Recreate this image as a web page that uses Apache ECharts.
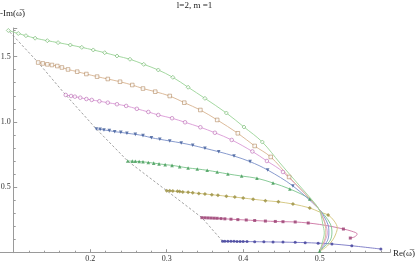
<!DOCTYPE html>
<html><head><meta charset="utf-8">
<script src="https://cdn.jsdelivr.net/npm/echarts@6/dist/echarts.min.js"></script>
<style>html,body{margin:0;padding:0;background:#fff}#c{width:415px;height:263px}</style>
</head><body><div id="c"></div>
<script>
// [Re, -Im, hasMarker]
const n0 = [[0.373,0.088,1],[0.376,0.088,1],[0.380,0.087,1],[0.384,0.087,1],[0.388,0.087,1],[0.392,0.086,1],[0.396,0.086,1],[0.400,0.086,1],[0.405,0.085,1],[0.415,0.084,1],[0.427,0.083,1],[0.439,0.082,1],[0.452,0.081,1],[0.468,0.079,1],[0.481,0.077,1],[0.498,0.073,1],[0.516,0.067,1],[0.542,0.053,1],[0.580,0.028,1]];
const n1 = [[0.346,0.268,1],[0.350,0.267,1],[0.354,0.266,1],[0.358,0.265,1],[0.362,0.264,1],[0.366,0.263,1],[0.371,0.261,1],[0.376,0.259,1],[0.384,0.256,1],[0.393,0.253,1],[0.404,0.250,1],[0.415,0.246,1],[0.429,0.242,1],[0.442,0.239,1],[0.452,0.237,1],[0.468,0.235,1],[0.485,0.227,1],[0.500,0.216,0],[0.516,0.200,0],[0.531,0.181,1],[0.542,0.164,0],[0.549,0.143,0],[0.546,0.122,0],[0.540,0.112,1]];
const n2 = [[0.300,0.474,1],[0.304,0.473,1],[0.308,0.471,1],[0.314,0.469,1],[0.317,0.467,1],[0.321,0.465,1],[0.328,0.462,1],[0.334,0.458,1],[0.342,0.453,1],[0.350,0.449,1],[0.359,0.443,1],[0.367,0.439,1],[0.378,0.432,1],[0.389,0.425,1],[0.400,0.418,1],[0.413,0.409,1],[0.429,0.398,1],[0.446,0.389,1],[0.465,0.372,1],[0.487,0.342,1],[0.500,0.311,0],[0.511,0.288,1],[0.519,0.242,0],[0.523,0.189,0],[0.521,0.143,0],[0.517,0.097,0],[0.510,0.051,0],[0.502,0.017,0]];
const n3 = [[0.249,0.701,1],[0.255,0.700,1],[0.259,0.699,1],[0.264,0.697,1],[0.269,0.695,1],[0.276,0.690,1],[0.283,0.685,1],[0.290,0.679,1],[0.298,0.673,1],[0.307,0.668,1],[0.317,0.658,1],[0.328,0.648,1],[0.340,0.640,1],[0.353,0.630,1],[0.366,0.617,1],[0.380,0.602,1],[0.398,0.586,1],[0.418,0.569,1],[0.439,0.533,1],[0.461,0.487,1],[0.487,0.411,1],[0.499,0.334,0],[0.507,0.281,0],[0.514,0.219,0],[0.516,0.158,0],[0.514,0.097,0],[0.507,0.051,0],[0.500,0.013,1]];
const n4 = [[0.208,0.946,1],[0.213,0.943,1],[0.218,0.938,1],[0.225,0.933,1],[0.232,0.925,1],[0.240,0.920,1],[0.248,0.913,1],[0.259,0.905,1],[0.269,0.895,1],[0.280,0.879,1],[0.291,0.867,1],[0.304,0.854,1],[0.319,0.839,1],[0.334,0.821,1],[0.350,0.798,1],[0.368,0.772,1],[0.388,0.739,1],[0.409,0.696,1],[0.432,0.632,1],[0.465,0.510,1],[0.499,0.334,0],[0.506,0.273,0],[0.511,0.212,0],[0.512,0.151,0],[0.510,0.090,0],[0.504,0.044,0],[0.500,0.013,0]];
const n5 = [[0.168,1.206,1],[0.175,1.198,1],[0.180,1.193,1],[0.187,1.185,1],[0.195,1.175,1],[0.202,1.168,1],[0.212,1.158,1],[0.223,1.147,1],[0.235,1.135,1],[0.247,1.122,1],[0.261,1.100,1],[0.276,1.076,1],[0.289,1.053,1],[0.307,1.028,1],[0.324,0.997,1],[0.344,0.959,1],[0.363,0.917,1],[0.385,0.862,1],[0.412,0.774,1],[0.431,0.701,1],[0.452,0.617,1],[0.499,0.334,0],[0.504,0.273,0],[0.508,0.212,0],[0.510,0.151,0],[0.507,0.090,0],[0.503,0.044,0],[0.500,0.013,0]];
const n6 = [[0.132,1.454,1],[0.138,1.447,1],[0.144,1.440,1],[0.150,1.435,1],[0.157,1.427,1],[0.163,1.416,1],[0.171,1.401,1],[0.183,1.384,1],[0.195,1.366,1],[0.209,1.346,1],[0.223,1.328,1],[0.239,1.307,1],[0.255,1.282,1],[0.269,1.255,1],[0.285,1.231,1],[0.304,1.198,1],[0.323,1.147,1],[0.344,1.091,1],[0.366,1.015,1],[0.393,0.913,1],[0.415,0.816,1],[0.436,0.732,1],[0.460,0.579,1],[0.499,0.334,0],[0.503,0.281,0],[0.507,0.219,0],[0.508,0.151,0],[0.506,0.090,0],[0.502,0.044,0],[0.500,0.013,0]];
const n7 = [[0.093,1.699,1],[0.106,1.676,1],[0.116,1.659,1],[0.128,1.640,1],[0.144,1.621,1],[0.158,1.606,1],[0.174,1.588,1],[0.189,1.570,1],[0.204,1.550,1],[0.219,1.529,1],[0.235,1.504,1],[0.252,1.479,1],[0.270,1.440,1],[0.289,1.397,1],[0.308,1.341,1],[0.328,1.265,1],[0.350,1.180,1],[0.378,1.068,1],[0.401,0.961,1],[0.425,0.846,1],[0.448,0.686,0],[0.474,0.510,0],[0.490,0.403,0],[0.499,0.334,0],[0.502,0.281,0],[0.504,0.219,0],[0.506,0.151,0],[0.504,0.090,0],[0.502,0.044,0],[0.500,0.013,0]];
const xTickLabels = [0.2, 0.3, 0.4, 0.5];
const yTickLabels = [0.5, 1.0, 1.5];
const titleText = 'l=2, m =1';
const xName = 'Re(\u03c9\u0305)';
const yName = '-Im(\u03c9\u0305)';

const styles = [
  {d:n0, c:'#3e3d99', l:'#7776c4', sym:'circle', s:3},
  {d:n1, c:'#993d71', l:'#cc72a2', sym:'rect', s:3},
  {d:n2, c:'#998d3d', l:'#d2c479', sym:'diamond', s:4},
  {d:n3, c:'#3d9952', l:'#7cc58c', sym:'triangle', s:3.6},
  {d:n4, c:'#3d5a99', l:'#7a90c8', sym:'triangle', s:3.6, rot:180},
  {d:n5, c:'#b45aac', l:'#da98d6', sym:'circle', s:3.6, open:true},
  {d:n6, c:'#ad8052', l:'#d8b390', sym:'rect', s:3.6, open:true},
  {d:n7, c:'#5aaa55', l:'#9ad496', sym:'diamond', s:4, open:true}
];
const series = [];
series.push({type:'line', xAxisIndex:0, yAxisIndex:0, data: styles.map(s=>[s.d[0][0], s.d[0][1]]),
  showSymbol:false, symbol:'none', silent:true, z:1,
  lineStyle:{color:'#8a8a8a', width:0.8, type:[2.5,2]}});
styles.forEach(s=>{
  series.push({type:'line', xAxisIndex:0, yAxisIndex:0, data:s.d.map(p=>[p[0],p[1]]), smooth:0.35,
    showSymbol:false, symbol:'none', silent:true, z:2, lineStyle:{color:s.l, width:0.9}});
  series.push({type:'scatter', xAxisIndex:0, yAxisIndex:0, data:s.d.filter(p=>p[2]).map(p=>[p[0],p[1]]),
    symbol:s.sym, symbolSize:s.s, symbolRotate:s.rot||0, silent:true, z:3,
    itemStyle: s.open ? {color:'#fff', borderColor:s.c, borderWidth:0.7} : {color:s.c}});
});
const tickCol = '#9a9a9a';
const lblFont = {fontSize:8, color:'#333', fontFamily:'Liberation Serif'};
const fmt = list => v => { const t = list.find(q => Math.abs(q - v) < 1e-6); return t === undefined ? '' : t.toFixed(1); };
const chart = echarts.init(document.getElementById('c'), null, {renderer:'canvas'});
chart.setOption({
  animation:false,
  backgroundColor:'#fff',
  grid:[
    {left:-62.8, right:25, top:-8.9, bottom:-55.1, containLabel:false, outerBoundsMode:'none'},
    {left:13.7, right:25, top:28, bottom:10.3, containLabel:false, outerBoundsMode:'none'}
  ],
  xAxis:[
    {gridIndex:0, type:'value', min:0, max:0.5919, interval:0.1,
     axisLine:{onZero:true, lineStyle:{color:tickCol, width:1}},
     axisTick:{show:false}, axisLabel:{show:false}, splitLine:{show:false}},
    {gridIndex:1, type:'value', position:'bottom', min:0.1, max:0.5919, interval:0.1,
     axisLine:{show:false, onZero:false},
     axisTick:{show:true, inside:true, length:3.5, lineStyle:{color:tickCol}},
     minorTick:{show:true, splitNumber:5, length:2, lineStyle:{color:tickCol}},
     splitLine:{show:false},
     axisLabel:Object.assign({show:true, margin:2, formatter:fmt(xTickLabels)}, lblFont)}
  ],
  yAxis:[
    {gridIndex:0, type:'value', min:-0.5, max:2.0, show:false},
    {gridIndex:1, type:'value', min:0, max:1.718, interval:0.5,
     axisLine:{show:true, onZero:false, lineStyle:{color:tickCol, width:1}},
     axisTick:{show:true, inside:true, length:3.5, lineStyle:{color:tickCol}},
     minorTick:{show:true, splitNumber:5, length:2, lineStyle:{color:tickCol}},
     splitLine:{show:false},
     axisLabel:Object.assign({margin:3, formatter:fmt(yTickLabels)}, lblFont)}
  ],
  graphic:[
    {type:'text', x:194.5, y:6, style:{text:titleText, font:'9px "Liberation Serif"', fill:'#222', align:'center', verticalAlign:'middle'}},
    {type:'text', x:0, y:14, style:{text:yName, font:'9px "Liberation Serif"', fill:'#222', align:'left', verticalAlign:'middle'}},
    {type:'text', x:393, y:254, style:{text:xName, font:'9px "Liberation Serif"', fill:'#222', align:'left', verticalAlign:'middle'}}
  ],
  series
});
</script></body></html>
